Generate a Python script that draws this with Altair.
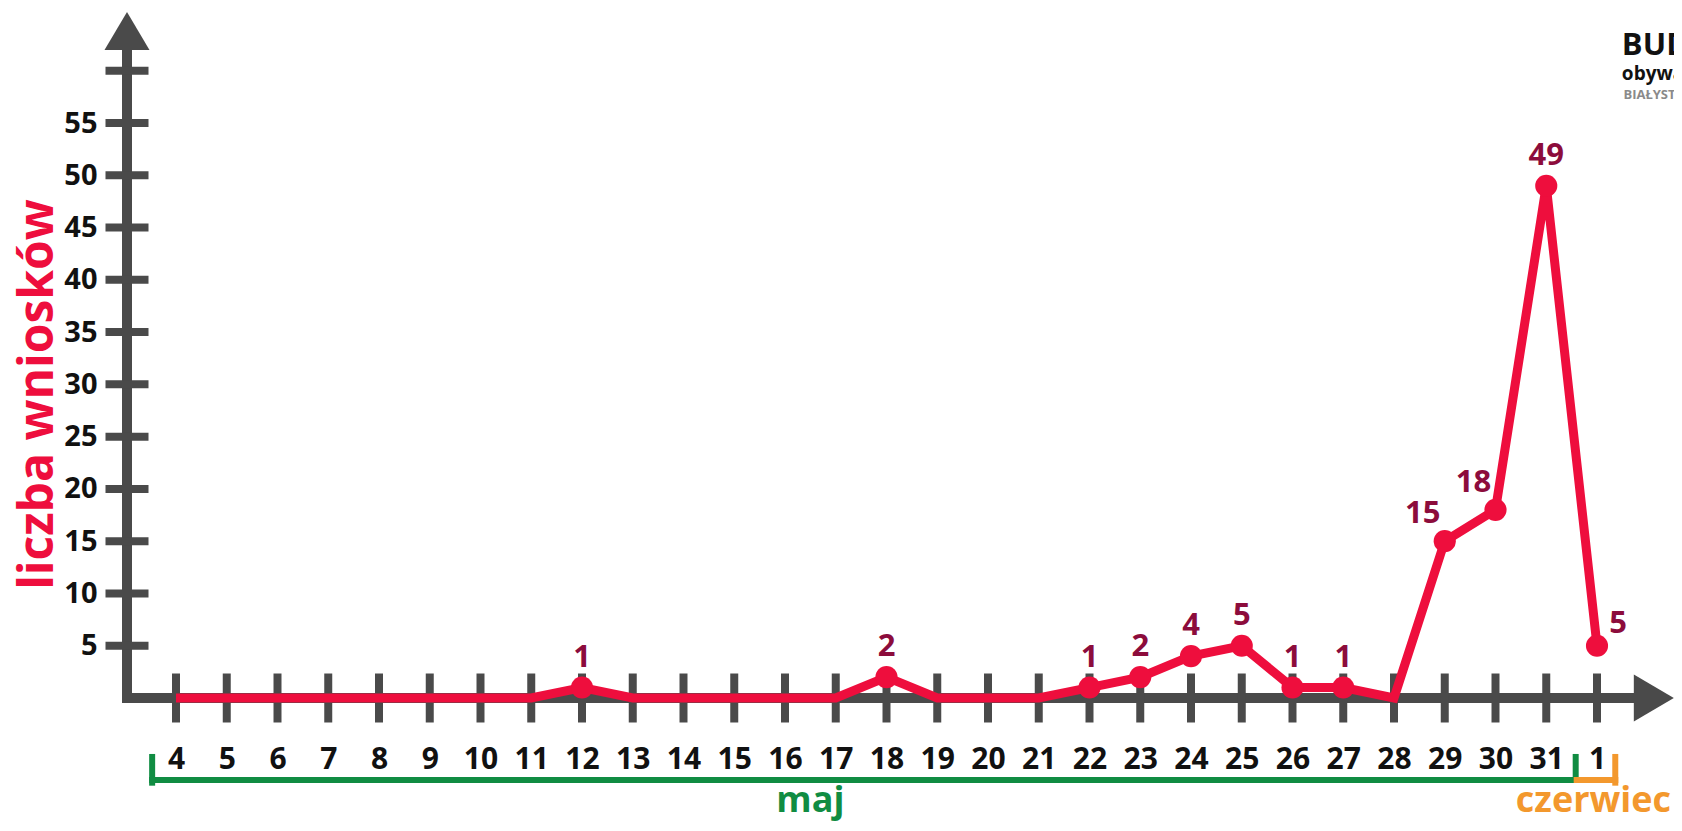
import json
import altair as alt
import pandas as pd

# ---- data ----
days = ["4", "5", "6", "7", "8", "9", "10", "11", "12", "13", "14", "15", "16",
        "17", "18", "19", "20", "21", "22", "23", "24", "25", "26", "27", "28",
        "29", "30", "31", "1"]
values = [0, 0, 0, 0, 0, 0, 0, 0, 1, 0, 0, 0, 0, 0, 2, 0, 0, 0, 1, 2, 4, 5, 1, 1,
          0, 15, 18, 49, 5]
y_ticks = [5, 10, 15, 20, 25, 30, 35, 40, 45, 50, 55, 60]
y_labels = [5, 10, 15, 20, 25, 30, 35, 40, 45, 50, 55]
month_names = ["maj", "czerwiec"]

# ---- styling ----
FONT = "Open Sans"
RED = "#EE0E3D"
MAROON = "#8C0C3C"
GRAY = "#4A4A4A"
GREEN = "#108C42"
ORANGE = "#F3982D"

XMIN, XMAX = -0.96552, 29.5172
YMIN, YMAX = 0, 66
ARROW_X = 29.12      # centre of the x-axis arrow head
ARROW_Y = 63.8       # centre of the y-axis arrow head
Y_LINE_TOP = 62.0
X_LINE_END = 28.9

df = pd.DataFrame({"i": list(range(len(days))), "day": days, "v": values})
nz = df[df.v > 0]

xs = alt.Scale(domain=[XMIN, XMAX], nice=False, zero=False)
ys = alt.Scale(domain=[YMIN, YMAX], nice=False, zero=False)

label_expr = json.dumps(days) + "[datum.value]"

x_axis = alt.Axis(values=list(range(len(days))), labelExpr=label_expr,
                  domain=False, ticks=False, tickSize=0, grid=False,
                  labelFont=FONT, labelFontWeight="bold", labelFontSize=30,
                  labelColor="#111111", labelBaseline="alphabetic",
                  labelPadding=70, labelOverlap=False, labelFlush=False,
                  title=None)
y_axis = alt.Axis(values=y_labels, domain=False, ticks=False, tickSize=0,
                  grid=False, labelFont=FONT, labelFontWeight="bold",
                  labelFontSize=29, labelColor="#111111", labelAlign="right",
                  labelBaseline="middle", labelPadding=30,
                  title="liczba wniosków", titleFont=FONT,
                  titleFontWeight="bold", titleFontSize=48, titleColor=RED,
                  titleAngle=270, titleAlign="center",
                  titleBaseline="alphabetic", titleX=-75, titleY=386)


def X(field):
    return alt.X(field, scale=xs, axis=x_axis)


def Y(field):
    return alt.Y(field, scale=ys, axis=y_axis)


# axis lines (drawn as rules through the scales)
axis_lines = pd.DataFrame({
    "ax": [XMIN, XMIN], "ax2": [XMIN, X_LINE_END],
    "ay": [0, 0], "ay2": [Y_LINE_TOP, 0]})
axes_layer = alt.Chart(axis_lines).mark_rule(
    color=GRAY, strokeWidth=10, strokeCap="square").encode(
    x=X("ax:Q"), x2="ax2:Q", y=Y("ay:Q"), y2="ay2:Q")

xticks_layer = alt.Chart(df).transform_calculate(zero="0").mark_tick(
    orient="vertical", size=49, thickness=8, color=GRAY, opacity=1).encode(
    x=X("i:Q"), y=Y("zero:Q"))

yt = pd.DataFrame({"t": y_ticks, "xm": [XMIN] * len(y_ticks)})
yticks_layer = alt.Chart(yt).mark_tick(
    orient="horizontal", size=43, thickness=8, color=GRAY, opacity=1).encode(
    x=X("xm:Q"), y=Y("t:Q"))

arrow_up = alt.Chart(pd.DataFrame({"ax": [XMIN], "ay": [ARROW_Y]})).mark_point(
    shape="M0,-1L1.184,1L-1.184,1Z", size=1444, filled=True, color=GRAY,
    opacity=1, strokeWidth=0).encode(x=X("ax:Q"), y=Y("ay:Q"))

arrow_right = alt.Chart(pd.DataFrame({"ax": [ARROW_X], "ay": [0]})).mark_point(
    shape="M-1,-1.175L1,0L-1,1.175Z", size=1600, filled=True, color=GRAY,
    opacity=1, strokeWidth=0).encode(x=X("ax:Q"), y=Y("ay:Q"))

line_layer = alt.Chart(df).mark_line(color=RED, strokeWidth=9).encode(
    x=X("i:Q"), y=Y("v:Q"))

dots_layer = alt.Chart(nz).mark_circle(size=490, color=RED, opacity=1).encode(
    x=X("i:Q"), y=Y("v:Q"))


def labels(data, dx, dy):
    return alt.Chart(data).mark_text(
        font=FONT, fontWeight="bold", fontSize=31, color=MAROON,
        align="center", baseline="alphabetic", dx=dx, dy=dy).encode(
        x=X("i:Q"), y=Y("v:Q"), text=alt.Text("v:Q"))


lab_above = labels(nz[(nz.i < 25) | (nz.i == 27)], 0, -21)
lab_left = labels(nz[(nz.i == 25) | (nz.i == 26)], -22, -18)
lab_right = labels(nz[nz.i == 28], 21, -13)

# month brackets under the day labels
BR_Y, BR_TOP, BR_BOT = -7.84, -5.64, -8.1
G_A, G_B = -0.47, 27.58      # May bracket ends
O_A, O_B = 27.60, 28.36      # June bracket ends
segs = [
    {"bx": G_A, "bx2": G_B, "by": BR_Y, "by2": BR_Y, "c": GREEN},
    {"bx": G_A, "bx2": G_A, "by": BR_TOP, "by2": BR_BOT, "c": GREEN},
    {"bx": G_B, "bx2": G_B, "by": BR_TOP, "by2": BR_Y, "c": GREEN},
    {"bx": O_A, "bx2": O_B, "by": BR_Y, "by2": BR_Y, "c": ORANGE},
    {"bx": O_B, "bx2": O_B, "by": BR_TOP, "by2": BR_BOT, "c": ORANGE},
]
brackets = alt.Chart(pd.DataFrame(segs)).mark_rule(
    strokeWidth=6, strokeCap="square").encode(
    x=X("bx:Q"), x2="bx2:Q", y=Y("by:Q"), y2="by2:Q",
    color=alt.Color("c:N", scale=None))

month_df = pd.DataFrame({"name": month_names, "mx": [12.5, 27.93],
                         "my": [-10.9, -10.9], "c": [GREEN, ORANGE]})
month_layer = alt.Chart(month_df).mark_text(
    font=FONT, fontWeight="bold", fontSize=36, align="center",
    baseline="alphabetic").encode(
    x=X("mx:Q"), y=Y("my:Q"),
    text="name:N", color=alt.Color("c:N", scale=None))

# logo text, top right (cut by the edge as in the reference)
logo = pd.DataFrame({"t": ["BUDŻET", "obywatelski", "BIAŁYSTOK"],
                     "lx": [28.49, 28.49, 28.52],
                     "ly": [61.5, 59.1, 57.25],
                     "fs": [31, 19, 13],
                     "c": ["#111111", "#111111", "#8A8A8A"]})
logo_layer = alt.Chart(logo).mark_text(
    font=FONT, fontWeight="bold", align="left", baseline="alphabetic").encode(
    x=X("lx:Q"), y=Y("ly:Q"),
    text="t:N", size=alt.Size("fs:Q", scale=None),
    color=alt.Color("c:N", scale=None))

chart = alt.layer(
    axes_layer, xticks_layer, yticks_layer, arrow_up, arrow_right,
    brackets, month_layer, logo_layer,
    line_layer, dots_layer, lab_above, lab_left, lab_right
).properties(
    width=1547, height=690,
    autosize=alt.AutoSizeParams(type="none"),
    padding={"left": 119, "top": 0, "right": 0, "bottom": 125},
    background="white"
).configure_view(stroke=None)

chart.save("out.html", embed_options={"renderer": "svg", "actions": False})
